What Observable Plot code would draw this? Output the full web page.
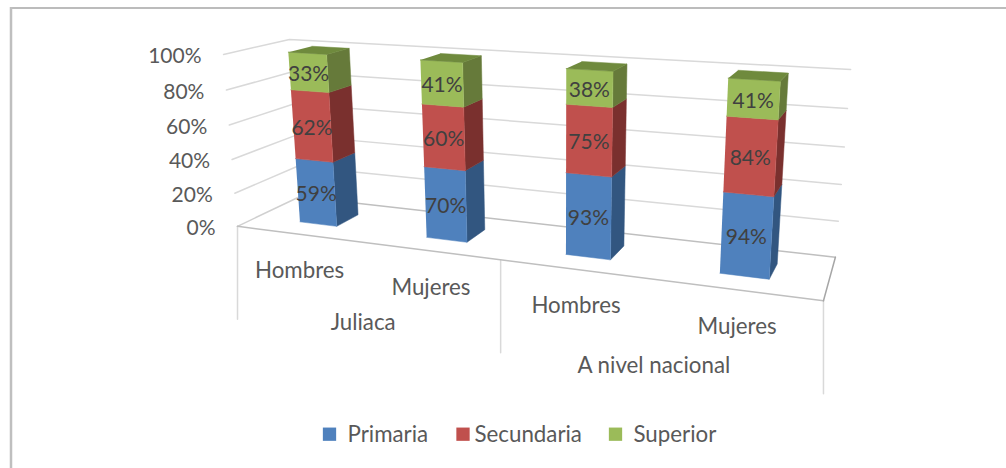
<!DOCTYPE html>
<html><head><meta charset="utf-8">
<style>html,body{margin:0;padding:0;background:#fff}svg{display:block}</style>
<script src="https://cdn.jsdelivr.net/npm/d3@7"></script>
<script src="https://cdn.jsdelivr.net/npm/@observablehq/plot@0.6"></script>
</head><body><div id="chart"></div>
<script>
const categories = ["Hombres","Mujeres","Hombres","Mujeres"];
const groups = ["Juliaca","A nivel nacional"];
const series = ["Primaria","Secundaria","Superior"];
const primaria = [59,70,93,94];
const secundaria = [62,60,75,84];
const superior = [33,41,38,41];
const ticks = [0,20,40,60,80,100];
const frontColors = ["#4f81bd","#c0504d","#9bbb59"];
const sideColors = ["#325680","#7a302e","#667a3a"];
const topColors = ["#3a6490","#8e3a38","#6f8a3d"];

// Camera models: known points in (width, depth, height) against where they sit on the picture plane
const boxCamera = [
 [0,0,0,238,226],[1,0,0,823,300],[1,1,0,835,257],[0,1,0,298,196],
 [0,1,1,290,39],[1,1,1,850,69],[0,0,1,222,54]
];
// bars: width in category slots, depth 0 = front face, 1 = back face
const L=0.35,R=0.65;
const barCamera = [
 [0+L,0,0,298.3,221.7],[0+R,0,0,336.7,225.7],[0+R,1,0,359.3,212.7],[0+L,0,1,287.3,52.3],[0+R,0,1,328.3,54.3],[0+R,1,1,351,48.3],[0+L,1,1,306.7,45.7],
 [1+L,0,0,425,236.7],[1+R,0,0,466.7,242],[1+R,1,0,485,229],[1+L,0,1,419.3,59.3],[1+R,0,1,464,61.7],[1+R,1,1,482.3,55.7],[1+L,1,1,440,53.3],
 [2+L,0,0,563.7,254],[2+R,0,0,610.7,259.7],[2+R,1,0,624,245],[2+L,0,1,565,67.7],[2+R,0,1,614.3,70.7],[2+R,1,1,627.3,64],[2+L,1,1,579.3,60.7],
 [3+L,0,0,717.7,272.7],[3+R,0,0,769.3,279],[3+R,1,0,777.3,265],[3+L,0,1,727,77.3],[3+R,0,1,780.7,80],[3+R,1,1,787.7,72.3],[3+L,1,1,736,69.3]
];
function solve(A,b){
  const n=b.length,M=A.map((r,i)=>[...r,b[i]]);
  for(let i=0;i<n;i++){
    let p=i;for(let k=i+1;k<n;k++)if(Math.abs(M[k][i])>Math.abs(M[p][i]))p=k;
    [M[i],M[p]]=[M[p],M[i]];
    for(let k=0;k<n;k++){if(k===i)continue;const f=M[k][i]/M[i][i];for(let j=i;j<=n;j++)M[k][j]-=f*M[i][j];}
  }
  return M.map((r,i)=>r[n]/r[i]);
}
function fitCamera(points){
  const rows=[],rhs=[];
  for(const [X,Y,Z,u,v] of points){
    rows.push([X,Y,Z,1,0,0,0,0,-u*X,-u*Y,-u*Z]);rhs.push(u);
    rows.push([0,0,0,0,X,Y,Z,1,-v*X,-v*Y,-v*Z]);rhs.push(v);
  }
  const AtA=Array.from({length:11},(_,i)=>Array.from({length:11},(_,j)=>d3.sum(rows,r=>r[i]*r[j])));
  const Atb=Array.from({length:11},(_,i)=>d3.sum(rows,(r,k)=>r[i]*rhs[k]));
  const P=solve(AtA,Atb);
  return (X,Y,Z)=>{
    const w=P[8]*X+P[9]*Y+P[10]*Z+1;
    return [(P[0]*X+P[1]*Y+P[2]*Z+P[3])/w,(P[4]*X+P[5]*Y+P[6]*Z+P[7])/w];
  };
}
const project=fitCamera(boxCamera);
const projectBar=fitCamera(barCamera);

const faces=[];let fid=0;
function face(pts,color){const id=fid++;for(const [X,Y,Z] of pts){const [x,y]=projectBar(X,Y,Z);faces.push({id,x,y,color});}}
const labels=[];
categories.forEach((c,i)=>{
  const vals=[primaria[i],secundaria[i],superior[i]],tot=d3.sum(vals);
  const x0=i+L,x1=i+R;
  let acc=0;
  vals.forEach((v,s)=>{
    const z0=acc/tot,z1=(acc+v)/tot;acc+=v;
    face([[x1,0,z0],[x1,1,z0],[x1,1,z1],[x1,0,z1]],sideColors[s]);
    face([[x0,0,z0],[x1,0,z0],[x1,0,z1],[x0,0,z1]],frontColors[s]);
    if(s===2)face([[x0,0,z1],[x1,0,z1],[x1,1,z1],[x0,1,z1]],topColors[s]);
    const [lx,ly]=projectBar((x0+x1)/2,0,(z0+z1)/2);
    labels.push({x:lx,y:ly+2,text:v+"%"});
  });
});

const gridLines=[];
ticks.filter(t=>t>0).forEach(t=>{
  const z=t/100;
  for(const p of [[0,0,z],[0,1,z],[1,1,z]]){const [x,y]=project(...p);gridLines.push({id:t,x,y});}
});
const edge=(pts)=>pts.map(p=>{const [x,y]=project(...p);return {x,y};});
const floorLight=edge([[0,1,0],[0,0,0]]);
const floorMid=edge([[0,0,0],[1,0,0]]);
const floorBack=edge([[0,1,0],[1,1,0]]);
const floorDark=edge([[1,1,0],[1,0,0]]);
const catLabels=categories.map((c,i)=>{const [x,y]=project((i+0.5)/4,0,0);return {x:x+1,y:y+37,text:c};});
const groupLabels=groups.map((g,i)=>{const X=(i+0.5)/2;const [x,y]=project(X,0,0);return {x:x+0.5,y:y+78+12*X,text:g};});
const seps=[0,0.5,1].flatMap((X,i)=>{const [x,y]=project(X,0,0);return [{id:i,x,y},{id:i,x,y:y+93}];});
const tickLabels=ticks.map(t=>{const [x,y]=project(0,0,t/100);return {x:x-22,y:y+2,text:t+"%"};});

const legendX=[322,455.5,608], legendTx=[347,474,633];
const legend=series.map((s,i)=>({s,x:legendX[i],tx:legendTx[i],c:frontColors[i]}));

const font="Lato, Carlito, Calibri, sans-serif";
const chart=Plot.plot({
  width:1006,height:468,margin:0,
  x:{domain:[0,1006],range:[0,1006],axis:null},
  y:{domain:[0,468],range:[0,468],axis:null},
  color:{type:"identity"},
  style:{fontFamily:font,background:"#fff"},
  marks:[
    Plot.ruleY([7.5],{x1:10,x2:1006,stroke:"#a6a6a6",strokeWidth:1.5}),
    Plot.ruleX([10.5],{y1:7,y2:468,stroke:"#bfbfbf",strokeWidth:2.5}),
    Plot.line(gridLines,{x:"x",y:"y",z:"id",stroke:"#d9d9d9",strokeWidth:1.5}),
    Plot.line(seps,{x:"x",y:"y",z:"id",stroke:"#d9d9d9",strokeWidth:1.5}),
    Plot.line(floorLight,{x:"x",y:"y",stroke:"#d0d0d0",strokeWidth:1.5}),
    Plot.line(floorBack,{x:"x",y:"y",stroke:"#bfbfbf",strokeWidth:1.5}),
    Plot.line(floorMid,{x:"x",y:"y",stroke:"#bfbfbf",strokeWidth:1.5}),
    Plot.line(floorDark,{x:"x",y:"y",stroke:"#a6a6a6",strokeWidth:1.5}),
    Plot.line(faces,{x:"x",y:"y",z:"id",fill:"color",stroke:"color",strokeWidth:0.5}),
    Plot.text(labels,{x:"x",y:"y",text:"text",fontSize:21,fill:"#404040"}),
    Plot.text(tickLabels,{x:"x",y:"y",text:"text",fontSize:21,fill:"#595959",textAnchor:"end"}),
    Plot.text(catLabels,{x:"x",y:"y",text:"text",fontSize:22.3,fill:"#595959"}),
    Plot.text(groupLabels,{x:"x",y:"y",text:"text",fontSize:22.3,fill:"#595959"}),
    Plot.dot(legend,{x:d=>d.x+7,y:()=>433.7,symbol:"square",r:7.5,fill:"c"}),
    Plot.text(legend,{x:"tx",y:()=>434,text:"s",fontSize:22.3,fill:"#595959",textAnchor:"start"})
  ]
});
document.getElementById("chart").append(chart);
</script></body></html>
